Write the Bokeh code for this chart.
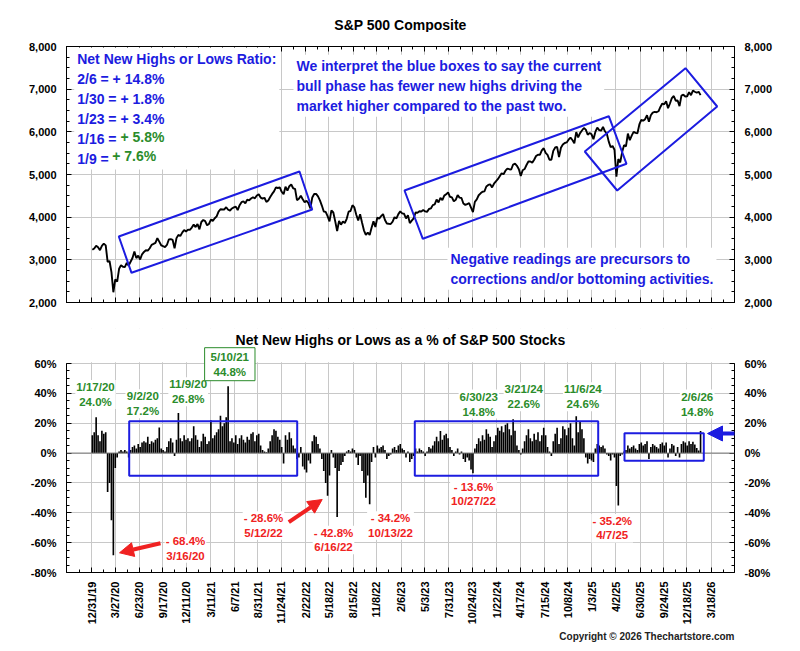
import math
import pandas as pd
from bokeh.plotting import figure
from bokeh.layouts import column
from bokeh.models import (Range1d, FixedTicker, LinearAxis, NumeralTickFormatter,
                          PrintfTickFormatter, Label, BoxAnnotation, PolyAnnotation,
                          Arrow, NormalHead, Span, Title)
from bokeh.embed import file_html
from bokeh.resources import INLINE

# ------------------------------------------------------------------ data
tick_labels = ["12/31/19", "3/27/20", "6/23/20", "9/17/20", "12/11/20", "3/11/21", "6/7/21",
               "8/31/21", "11/24/21", "2/22/22", "5/18/22", "8/15/22", "11/8/22", "2/6/23",
               "5/3/23", "7/31/23", "10/24/23", "1/22/24", "4/17/24", "7/15/24", "10/8/24",
               "1/3/25", "4/2/25", "6/30/25", "9/24/25", "12/18/25", "3/18/26"]

# S&P 500 weekly (Fridays from 2020-01-03)
spx_2020 = [3235, 3265, 3330, 3295, 3226, 3328, 3380, 3338, 2954, 2972, 2711, 2240, 2541,
            2489, 2790, 2875, 2837, 2831, 2930, 2864, 2955, 3044, 3194, 3041, 3098, 3009,
            3130, 3185, 3225, 3216, 3271, 3351, 3373, 3397, 3508, 3427, 3341, 3319, 3298,
            3348, 3477, 3484, 3465, 3270, 3509, 3585, 3558, 3638, 3699, 3663, 3709, 3703]
spx_2021 = [3756, 3825, 3768, 3841, 3714, 3887, 3934, 3907, 3811, 3842, 3943, 3913, 3975,
            4020, 4129, 4185, 4180, 4181, 4233, 4174, 4156, 4204, 4230, 4247, 4166, 4281,
            4352, 4370, 4327, 4412, 4395, 4437, 4468, 4442, 4509, 4535, 4459, 4433, 4455,
            4357, 4391, 4471, 4545, 4605, 4697, 4683, 4698, 4595, 4538, 4712, 4621, 4726, 4766]
spx_2022 = [4677, 4662, 4398, 4432, 4501, 4419, 4349, 4385, 4329, 4204, 4463, 4543, 4546,
            4488, 4392, 4272, 4132, 4123, 4023, 3901, 4158, 4109, 3901, 3675, 3912, 3825,
            3899, 3863, 3962, 4130, 4145, 4280, 4228, 4058, 3924, 4067, 3873, 3693, 3586,
            3640, 3583, 3752, 3901, 3771, 3993, 3965, 4026, 4072, 3934, 3852, 3845, 3840]
spx_2023 = [3895, 3999, 3973, 4071, 4136, 4090, 4079, 3970, 4046, 3862, 3917, 3971, 4109,
            4105, 4138, 4133, 4169, 4136, 4124, 4192, 4205, 4282, 4299, 4410, 4348, 4450,
            4399, 4505, 4536, 4582, 4478, 4464, 4370, 4406, 4516, 4457, 4450, 4320, 4288,
            4308, 4327, 4224, 4117, 4358, 4415, 4514, 4559, 4595, 4604, 4719, 4755, 4770]
spx_2024 = [4697, 4784, 4840, 4891, 4959, 5027, 5006, 5089, 5137, 5124, 5117, 5234, 5254,
            5204, 5123, 4967, 5100, 5128, 5223, 5303, 5305, 5278, 5347, 5432, 5465, 5460,
            5567, 5615, 5505, 5459, 5346, 5344, 5554, 5634, 5648, 5408, 5626, 5703, 5738,
            5751, 5815, 5864, 5808, 5729, 5995, 5871, 5969, 6032, 6090, 6051, 5931, 5971]
spx_2025 = [5942, 5827, 5997, 6101, 6041, 6026, 6115, 6013, 5955, 5770, 5639, 5668, 5581,
            4950, 5363, 5283, 5525, 5687, 5660, 5958, 5803, 5912, 6000, 5977, 5968, 6173,
            6279, 6260, 6297, 6389, 6238, 6389, 6450, 6467, 6460, 6482, 6584, 6664, 6644,
            6716, 6553, 6664, 6792, 6840, 6729, 6734, 6603, 6849, 6870, 6827, 6834, 6930]
spx_2026 = [6858, 6966, 6940, 6915, 6940, 6860]

# Net new highs (+) or lows (-) as % of S&P 500 stocks, weekly
nh_2020 = [12, 14, 24.0, 12, 8, 15, 13, 14, -26, -20, -45, -68.4, -10, -3, 1, 2, 1, 2, 1,
           -3, 2, 4, 5, 3, 6, 4, 7, 8, 7, 11, 6, 8, 7, 9, 10, 17.2, 3, 2, 1, 4, 8, 10, 7,
           -2, 9, 26.8, 10, 8, 12, 9, 10, 8]
nh_2021 = [10, 18, 12, 9, 4, 8, 13, 11, 6, 8, 22, 10, 12, 14, 16, 25, 18, 20, 24, 44.8,
           8, 10, 7, 12, 6, 10, 12, 9, 7, 11, 9, 13, 14, 8, 12, 13, 5, 2, 1, 0.5, 3, 8, 12,
           16, 15, 11, 9, 4, -7, 12, 9, 14, 10]
nh_2022 = [5, 3, -4, -3, 4, -9, -11, -13, -5, -7, 8, 12, 11, 6, 3, -4, -12, -20, -28.6,
           -15, 2, -3, -10, -42.8, -12, -8, -6, -2, 1, 2, 1, 3, 2, -3, -8, -2, -12, -20,
           -30, -15, -34.2, -6, 4, -3, 5, 3, 4, 5, 2, -4, -2, -1]
nh_2023 = [3, 4, 2, 5, 6, 3, 2, -3, 1, -6, -4, -2, 3, 1, 3, 2, 1, -2, 1, 4, 3, 5, 8, 11,
           8, 14.8, 9, 12, 13, 10, 4, 2, -2, 1, 3, -1, 1, -4, -6, -3, -5, -11, -13.6, 3, 6,
           10, 8, 12, 9, 16, 13, 11]
nh_2024 = [4, 8, 12, 17, 15, 18, 14, 19, 20, 16, 12, 22.6, 15, 5, 2, -1, 3, 8, 12, 16, 10,
           8, 13, 9, 14, 8, 12, 17, 12, 4, 1, -2, 8, 13, 17, 6, 10, 18, 16, 12, 17, 20, 10,
           5, 24.6, 14, 21, 16, 10, -3, -7, -4]
nh_2025 = [-5, -6, 3, 6, 5, 4, 5, 3, -1, -2, -5, -1, -3, -22, -35.2, -2, -1, 1, 2, 5, 3,
           4, 5, 3, 2, 6, 7, 5, 6, 8, -4, 4, 6, 5, 4, 3, 6, 7, 5, 7, -3, 3, 6, 5, -2, 4, -3,
           6, 8, 7, 5, 8]
nh_2026 = [6, 7.6, 5.8, 3.4, 1.8, 14.8]

ratio_dates = ["2/6", "1/30", "1/23", "1/16", "1/9"]
ratio_values = [14.8, 1.8, 3.4, 5.8, 7.6]

# ------------------------------------------------------------------ prep
BASE = pd.Timestamp("2019-12-31")
spx = spx_2020 + spx_2021 + spx_2022 + spx_2023 + spx_2024 + spx_2025 + spx_2026
nh = nh_2020 + nh_2021 + nh_2022 + nh_2023 + nh_2024 + nh_2025 + nh_2026
spx_days = [int(d) for d in (pd.date_range("2020-01-03", periods=len(spx), freq="W-FRI") - BASE).days]
nh_days = [int(d) for d in (pd.date_range("2020-01-03", periods=len(nh), freq="W-FRI") - BASE).days]
tick_days = [int((pd.to_datetime(t, format="%m/%d/%y") - BASE).days) for t in tick_labels]
step = tick_days[1] - tick_days[0]
minor_days = ([tick_days[0] - step / 2] +
              [(a + b) / 2 for a, b in zip(tick_days[:-1], tick_days[1:])] +
              [tick_days[-1] + step / 2])

FONT = "Liberation Sans"
GRID = "#c8c8c8"
BLUE = "#1c1ce0"
GREEN = "#2b8c2b"
RED = "#f02222"
X0, X1 = -91.5, 2353.2
FL, FR = 66, 734          # frame edges in page pixels (annotation placement only)
BOT_TOP = 60 + (363 - 328) * 140 / 209   # lower panel extended for its title
PAD = 3
HEAD_H = 32               # height of the strip holding the top title


def rx(px):
    return X0 + (px - FL) * (X1 - X0) / (FR - FL)


def ry_top(py):
    return 8000 - (py - 46) * 6000 / 256


def ry_bot(py):
    return 60 - (py - 363) * 140 / 209


def style_axis(ax, ticker, fmt=None, show=True, standoff=10):
    ax.ticker = ticker
    if fmt is not None:
        ax.formatter = fmt
    ax.axis_line_color = "black"
    ax.major_tick_in = 5
    ax.major_tick_out = 0
    ax.minor_tick_in = 3
    ax.minor_tick_out = 0
    ax.major_tick_line_color = "black"
    ax.minor_tick_line_color = "black"
    ax.major_label_text_font = FONT
    ax.major_label_text_font_style = "bold"
    ax.major_label_text_font_size = "11px"
    ax.major_label_text_color = "black" if show else None
    ax.major_label_standoff = standoff if show else 0


def label(p, x, y, text, color, size="14px", align="left", bg=None, border=None,
          padding=0, lh=1.2):
    lab = Label(x=x, y=y, text=text, text_color=color, text_font=FONT,
                text_font_style="bold", text_font_size=size, text_align=align,
                text_baseline="middle", text_line_height=lh, padding=padding)
    if bg:
        lab.background_fill_color = bg
    if border:
        lab.border_line_color = border
        lab.border_line_width = 1
    p.add_layout(lab)
    return lab


xt = FixedTicker(ticks=tick_days, minor_ticks=minor_days)
label_map = {d: t for d, t in zip(tick_days, tick_labels)}

# ------------------------------------------------------------------ title strip
p0 = figure(width=800, height=HEAD_H, x_range=Range1d(X0, X1), y_range=Range1d(0, HEAD_H),
            output_backend="svg", toolbar_location=None, x_axis_location=None,
            y_axis_location=None, min_border=0)
p0.outline_line_color = None
p0.grid.visible = False
label(p0, rx(400), HEAD_H - 24, "S&P 500 Composite", "black", "14px", "center")

# ------------------------------------------------------------------ top chart
yt1 = FixedTicker(ticks=list(range(2000, 8001, 1000)), minor_ticks=list(range(2000, 8001, 250)))
p1 = figure(width=800, height=320 - HEAD_H, x_range=p0.x_range, y_range=Range1d(2000, 8000),
            output_backend="svg", toolbar_location=None,
            min_border_left=66, min_border_right=66, min_border_top=46 - HEAD_H,
            min_border_bottom=18)
p1.outline_line_color = "black"
p1.xgrid.ticker = xt
p1.ygrid.ticker = yt1
p1.xgrid.grid_line_color = GRID
p1.ygrid.grid_line_color = GRID
style_axis(p1.xaxis[0], xt, show=False)
style_axis(p1.yaxis[0], yt1, NumeralTickFormatter(format="0,0"))
ax_top = LinearAxis()
style_axis(ax_top, xt, show=False)
p1.add_layout(ax_top, "above")
ax_r1 = LinearAxis()
style_axis(ax_r1, yt1, NumeralTickFormatter(format="0,0"))
p1.add_layout(ax_r1, "right")

p1.line(spx_days, spx, line_color="black", line_width=1.9)

# blue trend boxes
for pts in [[(118.3, 236), (299, 171), (311.7, 209), (131, 272.3)],
            [(404, 190), (608.3, 115.7), (626, 163.3), (422.3, 238.3)],
            [(685, 67.7), (716.7, 106), (616.7, 190), (584.3, 151)]]:
    p1.add_layout(PolyAnnotation(xs=[rx(a) for a, b in pts], ys=[ry_top(b) for a, b in pts],
                                 fill_color=None, fill_alpha=0, line_color=BLUE,
                                 line_alpha=1, line_width=2))

block = ["Net New Highs or Lows Ratio:"]
for i, (d, v) in enumerate(zip(ratio_dates, ratio_values)):
    block.append(f"{d} = + {v:.1f}%" if i < 3 else f"{d} =")
label(p1, rx(76.7 - PAD), ry_top(108), "\n".join(block), BLUE, "14px", "left", bg="white",
      padding=PAD, lh=1.25)
label(p1, rx(120), ry_top(136.3), f"+ {ratio_values[3]:.1f}%", GREEN, "14px", "left")
label(p1, rx(111.7), ry_top(155), f"+ {ratio_values[4]:.1f}%", GREEN, "14px", "left")

label(p1, rx(296 - PAD), ry_top(85.3),
      "We interpret the blue boxes to say the current\nbull phase has fewer new highs driving the\n"
      "market higher compared to the past two.", BLUE, "14px", "left", bg="white",
      padding=PAD, lh=1.25)
label(p1, rx(450 - PAD), ry_top(268.3),
      "Negative readings are precursors to\ncorrections and/or bottoming activities.",
      BLUE, "14px", "left", bg="white", padding=PAD, lh=1.25)

# ------------------------------------------------------------------ bottom chart
yt2 = FixedTicker(ticks=list(range(-80, 61, 20)), minor_ticks=list(range(-80, 61, 5)))
p2 = figure(width=800, height=331, x_range=p0.x_range, y_range=Range1d(-80, BOT_TOP),
            output_backend="svg", toolbar_location=None,
            min_border_left=66, min_border_right=66, min_border_top=8, min_border_bottom=79)
p2.outline_line_color = None
p2.xgrid.ticker = xt
p2.ygrid.ticker = yt2
p2.xgrid.grid_line_color = GRID
p2.ygrid.grid_line_color = GRID
style_axis(p2.xaxis[0], xt, standoff=9)
p2.xaxis[0].major_label_overrides = label_map
p2.xaxis[0].major_label_orientation = math.pi / 2
style_axis(p2.yaxis[0], yt2, PrintfTickFormatter(format="%d%%"))
p2.yaxis[0].bounds = (-80, 60)
ax_r2 = LinearAxis(bounds=(-80, 60))
style_axis(ax_r2, yt2, PrintfTickFormatter(format="%d%%"))
p2.add_layout(ax_r2, "right")

p2.vbar(x=nh_days, top=nh, bottom=0, width=6, fill_color="black", line_color=None)
p2.add_layout(Span(location=0, dimension="width", line_color="#777777", line_width=1))

# white band above the 60% line (space for the title and the boxed label)
p2.add_layout(BoxAnnotation(left=X0 - 100, right=X1 + 100, bottom=60 + 1.3 * 140 / 209,
                            top=BOT_TOP + 10, fill_color="white", fill_alpha=1,
                            line_alpha=0))

for l, r, t, b in [(128.7, 296.7, 420.7, 475.3), (414.3, 597.7, 420.7, 475.3),
                   (624, 703.3, 432.7, 460.3)]:
    p2.add_layout(BoxAnnotation(left=rx(l), right=rx(r), top=ry_bot(t), bottom=ry_bot(b),
                                fill_color=None, fill_alpha=0, line_color=BLUE,
                                line_alpha=1, line_width=2))

label(p2, rx(400), ry_bot(339), "Net New Highs or Lows as a % of S&P 500 Stocks", "black",
      "14px", "center")

for t1, t2, px, py, boxed in [("1/17/20", "24.0%", 95, 393.9, False),
                              ("9/2/20", "17.2%", 142.3, 403.2, False),
                              ("11/9/20", "26.8%", 187.7, 391.3, False),
                              ("5/10/21", "44.8%", 229.3, 363.7, True),
                              ("6/30/23", "14.8%", 478.3, 403.5, False),
                              ("3/21/24", "22.6%", 523.3, 396.2, False),
                              ("11/6/24", "24.6%", 582.3, 396.2, False),
                              ("2/6/26", "14.8%", 696.7, 403.5, False)]:
    label(p2, rx(px), ry_bot(py), f"{t1}\n{t2}", GREEN, "11.5px", "center", bg="white",
          border=GREEN if boxed else None, padding=(6, 3) if boxed else 1, lh=1.25)

for t1, t2, px, py in [("- 68.4%", "3/16/20", 185, 548),
                       ("- 28.6%", "5/12/22", 263, 525),
                       ("- 42.8%", "6/16/22", 333, 539.5),
                       ("- 34.2%", "10/13/22", 390, 525),
                       ("- 13.6%", "10/27/22", 473, 493.7),
                       ("- 35.2%", "4/7/25", 611.7, 527.7)]:
    label(p2, rx(px), ry_bot(py), f"{t1}\n{t2}", RED, "11.5px", "center", bg="white",
          padding=1, lh=1.2)

for (xs, ys), (xe, ye) in [((160, 542.7), (119, 552.3)), ((288.3, 521.7), (321.7, 499))]:
    p2.add_layout(Arrow(end=NormalHead(size=14, fill_color=RED, line_color=RED),
                        x_start=rx(xs), y_start=ry_bot(ys), x_end=rx(xe), y_end=ry_bot(ye),
                        line_color=RED, line_width=4))
p2.add_layout(Arrow(end=NormalHead(size=15, fill_color=BLUE, line_color=BLUE),
                    x_start=rx(736), y_start=ry_bot(433), x_end=rx(707), y_end=ry_bot(433),
                    line_color=BLUE, line_width=4))

p2.add_layout(Title(text="Copyright © 2026 Thechartstore.com", align="right",
                    text_font=FONT, text_font_style="bold", text_font_size="10px",
                    text_color="#222222", standoff=2), "below")

layout = column(p0, p1, p2, spacing=0)
open("out.html", "w").write(file_html(layout, INLINE))
